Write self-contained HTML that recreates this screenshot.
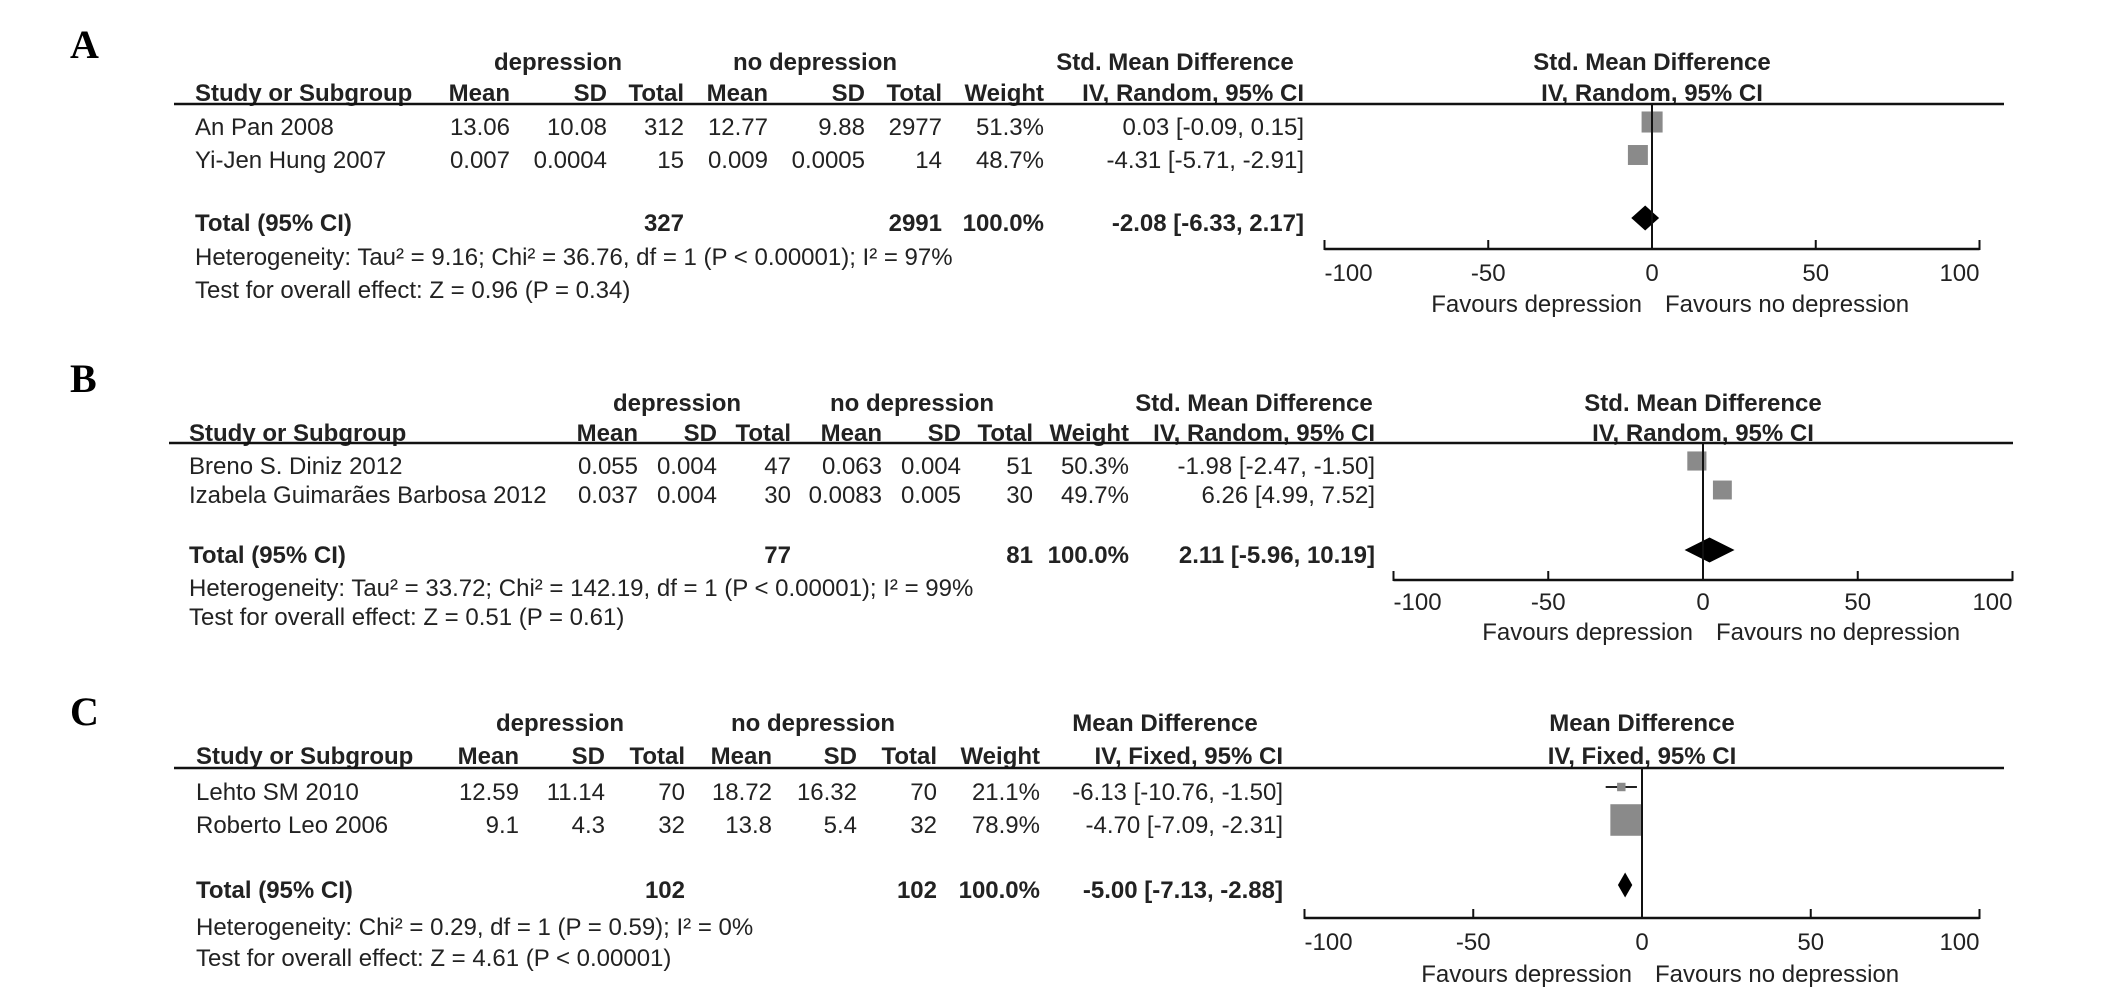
<!DOCTYPE html>
<html><head><meta charset="utf-8">
<style>
html,body{margin:0;padding:0;background:#fff;}
svg{display:block;font-family:"Liberation Sans",Arial,sans-serif;}
.t{font-size:24px;fill:#222;}
.b{font-weight:bold;}
.lt{font-family:"Liberation Serif",serif;font-weight:bold;font-size:40px;fill:#000;}
</style></head>
<body>
<svg id="chart" width="2126" height="1005" viewBox="0 0 2126 1005" xmlns="http://www.w3.org/2000/svg"></svg>
<script>
// ---- Panel A data ----
const studiesA = ["An Pan 2008", "Yi-Jen Hung 2007"];
const mean1A = ["13.06", "0.007"], sd1A = ["10.08", "0.0004"], n1A = ["312", "15"];
const mean2A = ["12.77", "0.009"], sd2A = ["9.88", "0.0005"], n2A = ["2977", "14"];
const weightA = [51.3, 48.7];
const effectA = [0.03, -4.31], lowA = [-0.09, -5.71], highA = [0.15, -2.91];
const totalA = {n1: "327", n2: "2991", effect: -2.08, low: -6.33, high: 2.17};
const hetA = "Heterogeneity: Tau² = 9.16; Chi² = 36.76, df = 1 (P < 0.00001); I² = 97%";
const testA = "Test for overall effect: Z = 0.96 (P = 0.34)";
// ---- Panel B data ----
const studiesB = ["Breno S. Diniz 2012", "Izabela Guimarães Barbosa 2012"];
const mean1B = ["0.055", "0.037"], sd1B = ["0.004", "0.004"], n1B = ["47", "30"];
const mean2B = ["0.063", "0.0083"], sd2B = ["0.004", "0.005"], n2B = ["51", "30"];
const weightB = [50.3, 49.7];
const effectB = [-1.98, 6.26], lowB = [-2.47, 4.99], highB = [-1.50, 7.52];
const totalB = {n1: "77", n2: "81", effect: 2.11, low: -5.96, high: 10.19};
const hetB = "Heterogeneity: Tau² = 33.72; Chi² = 142.19, df = 1 (P < 0.00001); I² = 99%";
const testB = "Test for overall effect: Z = 0.51 (P = 0.61)";
// ---- Panel C data ----
const studiesC = ["Lehto SM 2010", "Roberto Leo 2006"];
const mean1C = ["12.59", "9.1"], sd1C = ["11.14", "4.3"], n1C = ["70", "32"];
const mean2C = ["18.72", "13.8"], sd2C = ["16.32", "5.4"], n2C = ["70", "32"];
const weightC = [21.1, 78.9];
const effectC = [-6.13, -4.70], lowC = [-10.76, -7.09], highC = [-1.50, -2.31];
const totalC = {n1: "102", n2: "102", effect: -5.00, low: -7.13, high: -2.88};
const hetC = "Heterogeneity: Chi² = 0.29, df = 1 (P = 0.59); I² = 0%";
const testC = "Test for overall effect: Z = 4.61 (P < 0.00001)";
const axisTicks = [-100, -50, 0, 50, 100];

const svg = document.getElementById('chart');
const NS = 'http://www.w3.org/2000/svg';
function mk(tag, attrs, name, txt){
  const e = document.createElementNS(NS, tag);
  for (const k in attrs) e.setAttribute(k, attrs[k]);
  
  
  if (txt !== undefined) e.textContent = txt;
  svg.appendChild(e);
  return e;
}
function txt(x, y, s, name, anchor, cls){
  return mk('text', {x: x, y: y, 'text-anchor': anchor || 'start', class: 't ' + (cls || '')}, name, s);
}
function fmt(v){ return v.toFixed(2); }
function ciStr(e, l, h){ return fmt(e) + ' [' + fmt(l) + ', ' + fmt(h) + ']'; }

function panel(P){
  const d = P.data;
  mk('text', {x: P.letterX, y: P.letterY, class: 'lt'}, 'panel-label-' + P.id.toLowerCase(), P.id);
  const c = P.cols;
  txt(P.depC, P.y.grp, 'depression', 'header-depression', 'middle', 'b');
  txt(P.nodepC, P.y.grp, 'no depression', 'header-no-depression', 'middle', 'b');
  txt(P.ciHeadC, P.y.grp, P.measure, 'header-effect-measure', 'middle', 'b');
  txt(P.x0, P.y.grp, P.measure, 'plot-header-measure', 'middle', 'b');
  txt(c.study, P.y.hdr, 'Study or Subgroup', 'header-study', 'start', 'b');
  const hdrs = [['Mean', c.m1], ['SD', c.s1], ['Total', c.n1], ['Mean', c.m2], ['SD', c.s2], ['Total', c.n2], ['Weight', c.w]];
  hdrs.forEach(h => txt(h[1], P.y.hdr, h[0], 'header-' + h[0].toLowerCase(), 'end', 'b'));
  txt(c.ci, P.y.hdr, P.method, 'header-method', 'end', 'b');
  txt(P.x0, P.y.hdr, P.method, 'plot-header-method', 'middle', 'b');
  mk('line', {x1: P.lineX1, x2: P.lineX2, y1: P.lineY, y2: P.lineY, stroke: '#111', 'stroke-width': 2.5}, 'header-rule');
  const xs = v => P.x0 + v * P.scale;
  d.studies.forEach((s, i) => {
    const y = P.y.rows[i];
    txt(c.study, y, s, 'study-name');
    txt(c.m1, y, d.m1[i], 'dep-mean', 'end');
    txt(c.s1, y, d.s1[i], 'dep-sd', 'end');
    txt(c.n1, y, d.n1[i], 'dep-total', 'end');
    txt(c.m2, y, d.m2[i], 'nodep-mean', 'end');
    txt(c.s2, y, d.s2[i], 'nodep-sd', 'end');
    txt(c.n2, y, d.n2[i], 'nodep-total', 'end');
    txt(c.w, y, d.w[i].toFixed(1) + '%', 'weight', 'end');
    txt(c.ci, y, ciStr(d.e[i], d.l[i], d.h[i]), 'effect-ci', 'end');
    const cy = y - 13;
    mk('line', {x1: xs(d.l[i]), x2: xs(d.h[i]), y1: cy, y2: cy, stroke: '#222', 'stroke-width': 2}, 'ci-whisker');
    const sz = Math.max(8, d.w[i] * P.sq);
    mk('rect', {x: xs(d.e[i]) - sz / 2, y: cy - sz / 2, width: sz, height: sz, fill: '#8a8a8a'}, 'study-square');
  });
  const t = d.total, ty = P.y.tot;
  txt(c.study, ty, 'Total (95% CI)', 'total-label', 'start', 'b');
  txt(c.n1, ty, t.n1, 'total-dep-n', 'end', 'b');
  txt(c.n2, ty, t.n2, 'total-nodep-n', 'end', 'b');
  txt(c.w, ty, '100.0%', 'total-weight', 'end', 'b');
  txt(c.ci, ty, ciStr(t.effect, t.low, t.high), 'total-effect-ci', 'end', 'b');
  txt(c.study, P.y.het, d.het, 'heterogeneity-text');
  txt(c.study, P.y.test, d.test, 'overall-effect-text');
  const dy = ty - 13;
  mk('polygon', {points: [xs(t.low) + ',' + dy, xs(t.effect) + ',' + (dy - 12.5), xs(t.high) + ',' + dy, xs(t.effect) + ',' + (dy + 12.5)].join(' '), fill: '#000'}, 'pooled-diamond');
  mk('line', {x1: xs(0), x2: xs(0), y1: P.lineY, y2: P.axisY, stroke: '#111', 'stroke-width': 2}, 'zero-line');
  mk('line', {x1: xs(-100), x2: xs(100), y1: P.axisY, y2: P.axisY, stroke: '#111', 'stroke-width': 2.5}, 'x-axis');
  axisTicks.forEach((v, i) => {
    mk('line', {x1: xs(v), x2: xs(v), y1: P.axisY - 9, y2: P.axisY + 1, stroke: '#111', 'stroke-width': 2}, 'x-tick');
    const anchor = i === 0 ? 'start' : (i === axisTicks.length - 1 ? 'end' : 'middle');
    txt(xs(v), P.tickY, String(v), 'x-tick-label', anchor);
  });
  txt(xs(0) - 10, P.favY, 'Favours depression', 'favours-depression-label', 'end');
  txt(xs(0) + 13, P.favY, 'Favours no depression', 'favours-no-depression-label', 'start');
}

panel({id: 'A', letterX: 70, letterY: 58, measure: 'Std. Mean Difference', method: 'IV, Random, 95% CI',
  depC: 558, nodepC: 815, ciHeadC: 1175, x0: 1652, scale: 3.275, lineX1: 174, lineX2: 2004, lineY: 104,
  axisY: 249, tickY: 281, favY: 312, sq: 0.41,
  cols: {study: 195, m1: 510, s1: 607, n1: 684, m2: 768, s2: 865, n2: 942, w: 1044, ci: 1304},
  y: {grp: 70, hdr: 101, rows: [135, 168], tot: 231, het: 265, test: 298},
  data: {studies: studiesA, m1: mean1A, s1: sd1A, n1: n1A, m2: mean2A, s2: sd2A, n2: n2A, w: weightA, e: effectA, l: lowA, h: highA, total: totalA, het: hetA, test: testA}});
panel({id: 'B', letterX: 70, letterY: 392, measure: 'Std. Mean Difference', method: 'IV, Random, 95% CI',
  depC: 677, nodepC: 912, ciHeadC: 1254, x0: 1703, scale: 3.095, lineX1: 169, lineX2: 2013, lineY: 443,
  axisY: 580, tickY: 610, favY: 640, sq: 0.38,
  cols: {study: 189, m1: 638, s1: 717, n1: 791, m2: 882, s2: 961, n2: 1033, w: 1129, ci: 1375},
  y: {grp: 411, hdr: 441, rows: [474, 503], tot: 563, het: 596, test: 625},
  data: {studies: studiesB, m1: mean1B, s1: sd1B, n1: n1B, m2: mean2B, s2: sd2B, n2: n2B, w: weightB, e: effectB, l: lowB, h: highB, total: totalB, het: hetB, test: testB}});
panel({id: 'C', letterX: 70, letterY: 725, measure: 'Mean Difference', method: 'IV, Fixed, 95% CI',
  depC: 560, nodepC: 813, ciHeadC: 1165, x0: 1642, scale: 3.375, lineX1: 174, lineX2: 2004, lineY: 768,
  axisY: 918, tickY: 950, favY: 982, sq: 0.4,
  cols: {study: 196, m1: 519, s1: 605, n1: 685, m2: 772, s2: 857, n2: 937, w: 1040, ci: 1283},
  y: {grp: 731, hdr: 764, rows: [800, 833], tot: 898, het: 935, test: 966},
  data: {studies: studiesC, m1: mean1C, s1: sd1C, n1: n1C, m2: mean2C, s2: sd2C, n2: n2C, w: weightC, e: effectC, l: lowC, h: highC, total: totalC, het: hetC, test: testC}});
</script>
</body></html>
